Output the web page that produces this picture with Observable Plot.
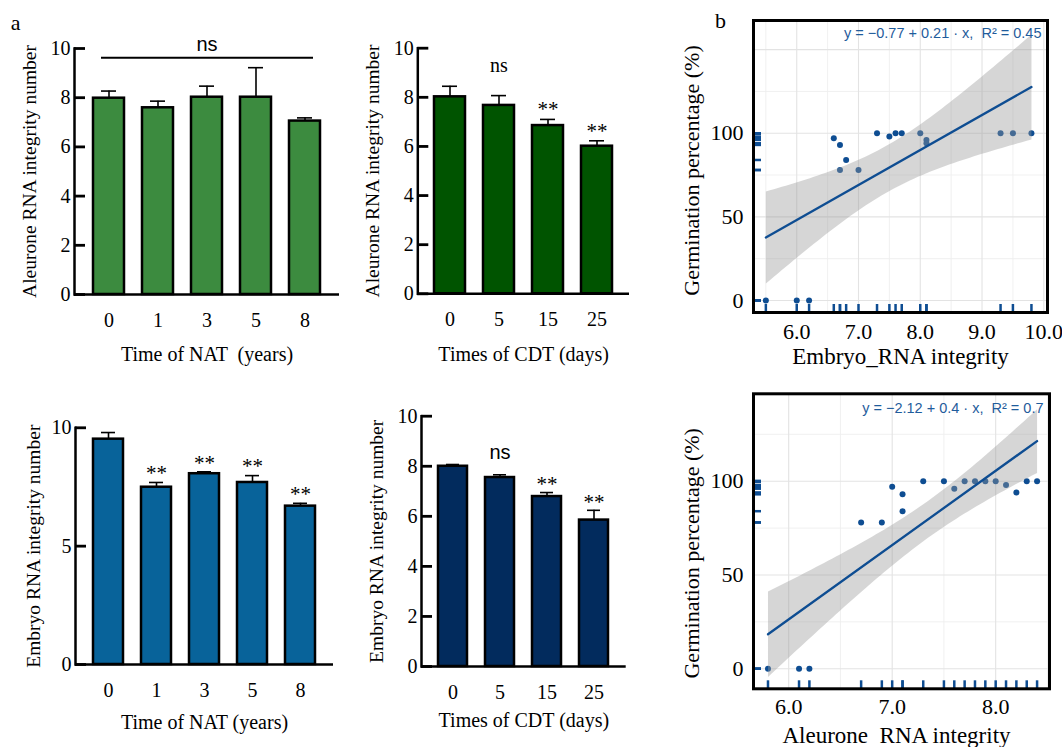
<!DOCTYPE html>
<html><head><meta charset="utf-8">
<script src="https://cdn.jsdelivr.net/npm/d3@7"></script>
<script src="https://cdn.jsdelivr.net/npm/@observablehq/plot@0.6"></script>
<style>
body{margin:0;background:#fff;}
#fig{position:relative;width:1062px;height:747px;overflow:hidden;background:#fff;}
#fig svg{position:absolute;overflow:visible;}
</style></head><body><div id="fig"></div>
<script>
// ---------- data ----------
const natYears = ["0", "1", "3", "5", "8"];
const cdtDays = ["0", "5", "15", "25"];

const aleuroneNatMean = [7.98, 7.59, 8.02, 8.02, 7.05];
const aleuroneNatErr  = [0.29, 0.27, 0.45, 1.20, 0.13];
const aleuroneNatSig  = "ns";

const aleuroneCdtMean = [8.02, 7.67, 6.85, 6.01];
const aleuroneCdtErr  = [0.43, 0.40, 0.25, 0.22];
const aleuroneCdtSig  = ["", "ns", "**", "**"];

const embryoNatMean = [9.52, 7.49, 8.06, 7.69, 6.69];
const embryoNatErr  = [0.28, 0.20, 0.08, 0.29, 0.12];
const embryoNatSig  = ["", "**", "**", "**", "**"];

const embryoCdtMean = [8.00, 7.55, 6.79, 5.85];
const embryoCdtErr  = [0.07, 0.11, 0.16, 0.39];
const embryoCdtSig  = ["", "ns", "**", "**"];

const embryoRIN   = [5.5, 6.0, 6.2, 6.6, 6.7, 6.8, 6.7, 7.0, 7.3, 7.5, 7.6, 7.7, 8.0, 8.1, 8.1, 9.3, 9.5, 9.8];
const germEmbryo  = [0, 0, 0, 97, 93, 84, 78, 78, 100, 98, 100, 100, 100, 96, 94, 100, 100, 100];
const aleuroneRIN = [5.8, 6.1, 6.2, 6.7, 6.9, 7.0, 7.1, 7.1, 7.3, 7.5, 7.6, 7.7, 7.8, 7.9, 8.0, 8.1, 8.2, 8.3, 8.4];
const germAleurone = [0, 0, 0, 78, 78, 97, 93, 84, 100, 100, 96, 100, 100, 100, 100, 98, 94, 100, 100];

const eqEmbryo   = "y = \u22120.77 + 0.21 \u00b7 x,  R\u00b2 = 0.45";
const eqAleurone = "y = \u22122.12 + 0.4 \u00b7 x,  R\u00b2 = 0.7";

// ---------- styling ----------
const SERIF = "'Liberation Serif', 'Times New Roman', serif";
const SANS = "'Liberation Sans', Arial, sans-serif";
const BLUE = "#0e4d92";
const fig = document.getElementById("fig");

function place(svg, left, top) {
  svg.style.left = left + "px";
  svg.style.top = top + "px";
  fig.appendChild(svg);
}

function barPanel(o) {
  const data = o.cats.map((c, i) => ({cat: c, mean: o.means[i], top: o.means[i] + o.errs[i], sig: o.sig ? o.sig[i] : ""}));
  const fw = o.width - o.ml - o.mr;
  const marks = [
    Plot.barY(data, {x: "cat", y: "mean", fill: o.fill, stroke: "#000", strokeWidth: 2.5}),
    Plot.ruleX(data, {x: "cat", y1: "mean", y2: "top", stroke: "#000", strokeWidth: 1.6}),
    Plot.tickY(data, {x: "cat", y: "top", stroke: "#000", strokeWidth: 1.6, insetLeft: 8, insetRight: 8}),
    Plot.ruleY([0], {stroke: "#000", strokeWidth: 2.5}),
    Plot.frame({anchor: "left", stroke: "#000", strokeWidth: 2.5}),
    // inward y-axis ticks
    Plot.ruleY(o.yTicks, {y: d => d, stroke: "#000", strokeWidth: 2.8, insetRight: fw - 11}),
    Plot.axisY({ticks: o.yTicks, tickSize: 0, tickPadding: 4, fontSize: 20, fontFamily: SERIF, label: null}),
    Plot.axisX({tickSize: 0, tickPadding: 18, fontSize: 20, fontFamily: SERIF, label: null}),
    Plot.text([o.yTitle], {text: d => d, frameAnchor: "left", textAnchor: "middle", rotate: -90, dx: o.yTitleDx, fontSize: 19.5, fontFamily: SERIF, fill: "#000"}),
    Plot.text([o.xTitle], {text: d => d, frameAnchor: "bottom", textAnchor: "middle", dy: o.xTitleDy, fontSize: 20, fontFamily: SERIF, fill: "#000", lineAnchor: "middle"}),
    Plot.text(data.filter(d => d.sig === "**"), {x: "cat", y: "top", text: "sig", dy: o.starDy, fontSize: 21, fontFamily: SERIF, fill: "#000", lineAnchor: "middle"}),
    Plot.text(data.filter(d => d.sig === "ns"), {x: "cat", y: "top", text: "sig", dy: o.nsDy, fontSize: 20, fontFamily: o.nsFont, fill: "#000", lineAnchor: "middle"})
  ];
  if (o.bracketSig) {
    const by = d3.max(data, d => d.top) + 0.4;
    marks.push(Plot.ruleY([by], {x1: () => o.cats[0], x2: () => o.cats[o.cats.length - 1], insetLeft: 8, insetRight: 7, stroke: "#000", strokeWidth: 2}));
    marks.push(Plot.text([{y: by, label: o.bracketSig}], {y: "y", text: "label", dy: -13, fontSize: 20, fontFamily: SANS, fill: "#000", lineAnchor: "middle"}));
  }
  if (o.panelLabel) {
    marks.push(Plot.text([o.panelLabel], {text: d => d, frameAnchor: "top-left", textAnchor: "middle", dx: o.panelDx, dy: o.panelDy, fontSize: 22, fontFamily: SERIF, fill: "#000", lineAnchor: "middle"}));
  }
  const svg = Plot.plot({
    width: o.width, height: o.height,
    marginLeft: o.ml, marginRight: o.mr, marginTop: o.mt, marginBottom: o.mb,
    style: {fontFamily: SERIF, fontSize: "20px", background: "transparent", color: "#000", overflow: "visible"},
    x: {type: "band", domain: o.cats, paddingInner: o.padIn, paddingOuter: o.padOut},
    y: {domain: [0, 10], nice: false},
    marks
  });
  place(svg, o.left, o.top);
}

function scatterPanel(o) {
  const data = o.xs.map((x, i) => ({x, y: o.ys[i]}));
  const fw = o.width - o.ml - o.mr, fh = o.height - o.mt - o.mb;
  const majorX = d3.range(5, 11, 1).filter(v => v >= o.xDomain[0] && v <= o.xDomain[1]);
  const minorX = d3.range(5.5, 11, 1).filter(v => v >= o.xDomain[0] && v <= o.xDomain[1]);
  const majorY = [0, 50, 100, 150].filter(v => v >= o.yDomain[0] && v <= o.yDomain[1]);
  const minorY = [25, 75, 125].filter(v => v >= o.yDomain[0] && v <= o.yDomain[1]);
  const marks = [
    Plot.gridX(minorX, {stroke: "#eeeeee", strokeOpacity: 1, strokeWidth: 0.9}),
    Plot.gridY(minorY, {stroke: "#eeeeee", strokeOpacity: 1, strokeWidth: 0.9}),
    Plot.gridX(majorX, {stroke: "#e3e3e3", strokeOpacity: 1, strokeWidth: 1.1}),
    Plot.gridY(majorY, {stroke: "#e3e3e3", strokeOpacity: 1, strokeWidth: 1.1}),
    Plot.dot(data, {x: "x", y: "y", r: 3, fill: BLUE, stroke: "none"}),
    Plot.tickX(data, {x: "x", stroke: BLUE, strokeWidth: 2.5, insetTop: fh - 8}),
    Plot.tickY(data, {y: "y", stroke: BLUE, strokeWidth: 2.5, insetRight: fw - 8}),
    Plot.linearRegressionY(data, {x: "x", y: "y", stroke: BLUE, strokeWidth: 2.3, fill: "#999999", fillOpacity: 0.4}),
    Plot.frame({stroke: "#000", strokeWidth: 3}),
    Plot.axisX({ticks: o.xTicks, tickFormat: d3.format(".1f"), tickSize: 0, tickPadding: o.xTickPad, fontSize: 22, fontFamily: SERIF, label: null}),
    Plot.axisY({ticks: [0, 50, 100], tickSize: 0, tickPadding: 10, fontSize: 22, fontFamily: SERIF, label: null}),
    Plot.text([o.eq], {text: d => d, frameAnchor: "top-right", dx: -6, dy: o.eqDy, textAnchor: "end", lineAnchor: "middle", fill: "#1f5c9c", fontFamily: SANS, fontSize: 14.5}),
    Plot.text([o.yTitle], {text: d => d, frameAnchor: "left", textAnchor: "middle", rotate: -90, dx: -62, dy: o.yTitleDy, fontSize: 22, fontFamily: SERIF, fill: "#000"}),
    Plot.text([o.xTitle], {text: d => d, frameAnchor: "bottom", textAnchor: "middle", dx: o.xTitleDx, dy: o.xTitleDy, fontSize: 23, fontFamily: SERIF, fill: "#000", lineAnchor: "middle"})
  ];
  if (o.panelLabel) {
    marks.push(Plot.text([o.panelLabel], {text: d => d, frameAnchor: "top-left", textAnchor: "middle", dx: -33, dy: 0, fontSize: 22, fontFamily: SERIF, fill: "#000", lineAnchor: "middle"}));
  }
  const svg = Plot.plot({
    width: o.width, height: o.height,
    marginLeft: o.ml, marginRight: o.mr, marginTop: o.mt, marginBottom: o.mb,
    style: {fontFamily: SERIF, fontSize: "20px", background: "transparent", color: "#000", overflow: "visible"},
    x: {domain: o.xDomain, nice: false},
    y: {domain: o.yDomain, nice: false},
    marks
  });
  place(svg, o.left, o.top);
}

// ---------- panels ----------
barPanel({
  cats: natYears, means: aleuroneNatMean, errs: aleuroneNatErr, sig: null, bracketSig: aleuroneNatSig,
  fill: "#3c8b3f", left: 0, top: 0, width: 350, height: 380, ml: 74, mr: 11, mt: 48, mb: 86,
  padIn: 0.37, padOut: 0.365, yTicks: [0, 2, 4, 6, 8, 10],
  yTitle: "Aleurone RNA integrity number", yTitleDx: -45,
  xTitle: "Time of NAT  (years)", xTitleDy: 60,
  starDy: -10, nsDy: -28, nsFont: SANS,
  panelLabel: "a", panelDx: -59, panelDy: -26
});

barPanel({
  cats: cdtDays, means: aleuroneCdtMean, errs: aleuroneCdtErr, sig: aleuroneCdtSig,
  fill: "#005400", left: 350, top: 0, width: 330, height: 380, ml: 67.3, mr: 51, mt: 47.7, mb: 86.7,
  padIn: 0.367, padOut: 0.34, yTicks: [0, 2, 4, 6, 8, 10],
  yTitle: "Aleurone RNA integrity number", yTitleDx: -45,
  xTitle: "Times of CDT (days)", xTitleDy: 60.7,
  starDy: -10, nsDy: -30, nsFont: SERIF
});

barPanel({
  cats: natYears, means: embryoNatMean, errs: embryoNatErr, sig: embryoNatSig,
  fill: "#08639a", left: 0, top: 370, width: 350, height: 377, ml: 75, mr: 17, mt: 57.3, mb: 83,
  padIn: 0.366, padOut: 0.368, yTicks: [0, 5, 10],
  yTitle: "Embryo RNA integrity number", yTitleDx: -42,
  xTitle: "Time of NAT (years)", xTitleDy: 58,
  starDy: -9, nsDy: -22, nsFont: SANS
});

barPanel({
  cats: cdtDays, means: embryoCdtMean, errs: embryoCdtErr, sig: embryoCdtSig,
  fill: "#022b5d", left: 350, top: 370, width: 330, height: 377, ml: 71, mr: 54.3, mt: 45.7, mb: 81,
  padIn: 0.387, padOut: 0.338, yTicks: [0, 2, 4, 6, 8, 10],
  yTitle: "Embryo RNA integrity number", yTitleDx: -45,
  xTitle: "Times of CDT (days)", xTitleDy: 54,
  starDy: -8, nsDy: -22, nsFont: SANS
});

scatterPanel({
  xs: embryoRIN, ys: germEmbryo, eq: eqEmbryo, eqDy: 13,
  left: 660, top: 0, width: 402, height: 370, ml: 93, mr: 15, mt: 20, mb: 58,
  xDomain: [5.3, 10.06], yDomain: [-7.2, 167.4], xTicks: [6, 7, 8, 9, 10], xTickPad: 11,
  yTitle: "Germination percentage (%)", yTitleDy: 4, xTitle: "Embryo_RNA integrity", xTitleDx: 0, xTitleDy: 44,
  panelLabel: "b"
});

scatterPanel({
  xs: aleuroneRIN, ys: germAleurone, eq: eqAleurone, eqDy: 15,
  left: 660, top: 370, width: 402, height: 377, ml: 93, mr: 13, mt: 23.3, mb: 58.7,
  xDomain: [5.66, 8.52], yDomain: [-10.7, 146.6], xTicks: [6, 7, 8], xTickPad: 10,
  yTitle: "Germination percentage (%)", yTitleDy: 12, xTitle: "Aleurone  RNA integrity", xTitleDx: -5, xTitleDy: 47
});
</script>
</body></html>
